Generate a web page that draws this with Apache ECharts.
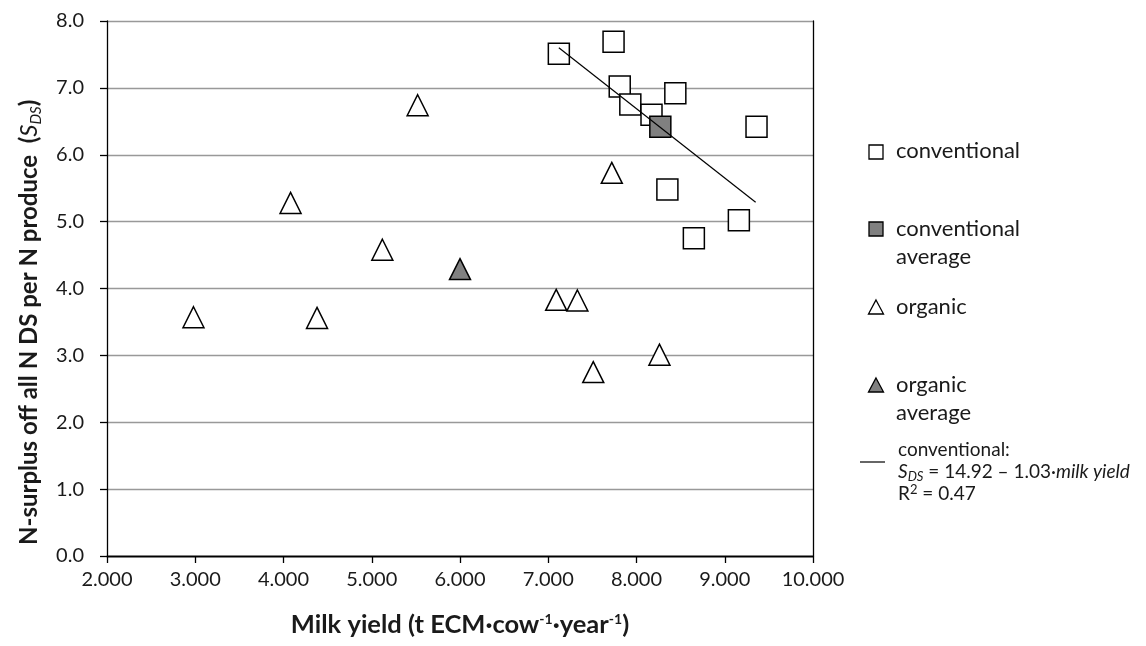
<!DOCTYPE html>
<html>
<head>
<meta charset="utf-8">
<script src="https://cdn.jsdelivr.net/npm/echarts@6/dist/echarts.min.js"></script>
<style>
  html, body { margin: 0; padding: 0; background: #fff; }
  #chart { width: 1146px; height: 646px; }
</style>
</head>
<body>
<div id="chart"></div>
<script>
// milk yield (t ECM per cow and year) and N surplus per N produce
const conventionalYield = [7.12, 7.74, 7.81, 7.93, 8.17, 8.44, 9.36, 8.35, 9.16, 8.65];
const conventionalSurplus = [7.51, 7.69, 7.02, 6.75, 6.60, 6.92, 6.42, 5.48, 5.02, 4.75];
const conventionalAvg = [8.27, 6.42];

const organicYield = [2.98, 4.08, 4.38, 5.12, 5.52, 7.09, 7.33, 7.51, 7.72, 8.26];
const organicSurplus = [3.57, 5.28, 3.56, 4.58, 6.74, 3.83, 3.82, 2.75, 5.73, 3.01];
const organicAvg = [6.00, 4.29];

// regression line ends
const trendYield = [7.12, 9.35];
const trendSurplus = [7.60, 5.29];

const font = 'Lato, "Open Sans", sans-serif';
const ink = '#1a1a1a';

const zip = (xs, ys) => xs.map((x, i) => [x, ys[i]]);

let chart = echarts.init(document.getElementById('chart'));

// marker look shared by the scatter series
function marker(shape, fill) {
    return {
        type: 'scatter',
        symbol: shape,
        symbolSize: 21,
        itemStyle: { color: fill, borderColor: '#000', borderWidth: 1.5, opacity: 1 },
        emphasis: { disabled: true },
        z: 3
    };
}

chart.setOption({
    animation: false,
    grid: { left: 107, right: 333, top: 21, bottom: 90 },
    xAxis: [{
        type: 'value',
        min: 2, max: 10, interval: 1,
        name: 'Milk yield (t ECM·cow{sup|-1}·year{sup|-1})',
        nameLocation: 'middle',
        nameGap: 56,
        nameTextStyle: {
            fontFamily: font, fontSize: 25.5, fontWeight: 'bold', color: ink,
            rich: {
                sup: { fontFamily: font, fontSize: 14, fontWeight: 'bold', color: ink, verticalAlign: 'top', lineHeight: 24 }
            }
        },
        axisLine: { lineStyle: { color: '#000', width: 1.3 } },
        axisTick: { length: 7, lineStyle: { color: '#000', width: 1.3 } },
        axisLabel: { margin: 14, fontFamily: font, fontSize: 20, color: ink, formatter: v => v.toFixed(3) },
        splitLine: { show: false }
    }, {
        // top frame
        type: 'value', position: 'top', min: 2, max: 10,
        axisLine: { show: true, lineStyle: { color: '#000', width: 1.3 } },
        axisTick: { show: false }, axisLabel: { show: false }, splitLine: { show: false }
    }],
    yAxis: [{
        type: 'value',
        min: 0, max: 8, interval: 1,
        axisLine: { show: true, lineStyle: { color: '#000', width: 1.3 } },
        axisTick: { show: true, length: 7, lineStyle: { color: '#000', width: 1.3 } },
        axisLabel: { margin: 23, fontFamily: font, fontSize: 20, color: ink, formatter: v => v.toFixed(1) },
        splitLine: { lineStyle: { color: '#999', width: 1.3 } }
    }, {
        // right frame
        type: 'value', position: 'right', min: 0, max: 8,
        axisLine: { show: true, lineStyle: { color: '#000', width: 1.3 } },
        axisTick: { show: false }, axisLabel: { show: false }, splitLine: { show: false }
    }],
    series: [
        Object.assign(marker('triangle', '#fff'), { name: 'organic', data: zip(organicYield, organicSurplus) }),
        Object.assign(marker('triangle', '#808080'), { name: 'organic average', data: [organicAvg] }),
        Object.assign(marker('rect', '#fff'), { name: 'conventional', data: zip(conventionalYield, conventionalSurplus) }),
        Object.assign(marker('rect', '#808080'), { name: 'conventional average', data: [conventionalAvg] }),
        {
            name: 'trend',
            type: 'line',
            data: zip(trendYield, trendSurplus),
            symbol: 'none',
            lineStyle: { color: '#000', width: 1.2 },
            z: 5
        }
    ],
    graphic: [
        // y axis title, read bottom to top
        {
            type: 'text', x: 29, y: 545, rotation: Math.PI / 2,
            style: {
                text: 'N-surplus off all N DS per N produce  ({it|S}{sub|DS})',
                font: 'bold 24px ' + font, fill: ink, align: 'left', verticalAlign: 'middle',
                rich: {
                    it: { fontFamily: font, fontSize: 24, fontStyle: 'italic', fill: ink, lineHeight: 30 },
                    sub: { fontFamily: font, fontSize: 15, fontStyle: 'italic', fill: ink, verticalAlign: 'bottom', lineHeight: 30 }
                }
            }
        },
        // legend on the right, drawn by hand as in the source figure
        { type: 'rect', shape: { x: 869, y: 145, width: 14, height: 14 }, style: { fill: '#fff', stroke: '#000', lineWidth: 1.3 } },
        { type: 'text', x: 896, y: 151, style: { text: 'conventional', font: '22px ' + font, fill: ink, verticalAlign: 'middle' } },
        { type: 'rect', shape: { x: 869, y: 222, width: 14, height: 14 }, style: { fill: '#808080', stroke: '#000', lineWidth: 1.3 } },
        { type: 'text', x: 896, y: 215, style: { text: 'conventional\naverage', font: '22px ' + font, lineHeight: 28, fill: ink, verticalAlign: 'top' } },
        { type: 'polygon', shape: { points: [[876, 300], [883.5, 314], [868.5, 314]] }, style: { fill: '#fff', stroke: '#000', lineWidth: 1.3 } },
        { type: 'text', x: 896, y: 307, style: { text: 'organic', font: '22px ' + font, fill: ink, verticalAlign: 'middle' } },
        { type: 'polygon', shape: { points: [[876, 378], [883.5, 392], [868.5, 392]] }, style: { fill: '#808080', stroke: '#000', lineWidth: 1.3 } },
        { type: 'text', x: 896, y: 371, style: { text: 'organic\naverage', font: '22px ' + font, lineHeight: 28, fill: ink, verticalAlign: 'top' } },
        { type: 'line', shape: { x1: 860, y1: 462, x2: 885, y2: 462 }, style: { stroke: '#000', lineWidth: 1.2 } },
        {
            type: 'text', x: 898, y: 439,
            style: {
                text: 'conventional:\n{it|S}{sub|DS} = 14.92 – 1.03·{it|milk yield}\nR{sup|2} = 0.47',
                font: '19px ' + font, fill: ink, lineHeight: 22, verticalAlign: 'top',
                rich: {
                    it: { fontFamily: font, fontSize: 19, fontStyle: 'italic', fill: ink, lineHeight: 22 },
                    sub: { fontFamily: font, fontSize: 13, fontStyle: 'italic', fill: ink, verticalAlign: 'bottom', lineHeight: 22 },
                    sup: { fontFamily: font, fontSize: 13, fill: ink, verticalAlign: 'top', lineHeight: 22 }
                }
            }
        }
    ]
});
</script>
</body>
</html>
